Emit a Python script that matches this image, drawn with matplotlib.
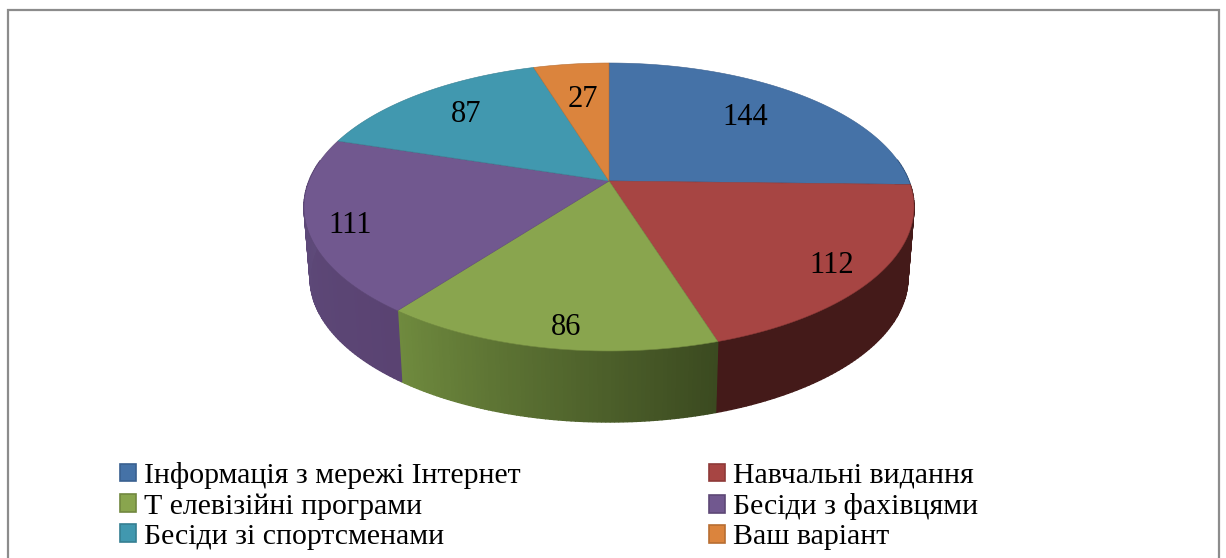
import numpy as np
import matplotlib
matplotlib.use("Agg")
import matplotlib.pyplot as plt
from matplotlib.colors import to_rgb
from matplotlib.patches import Patch, Polygon, Rectangle

# Data
labels = ["Інформація з мережі Інтернет", "Навчальні видання", "Т елевізійні програми",
          "Бесіди з фахівцями", "Бесіди зі спортсменами", "Ваш варіант"]
values = [144, 112, 86, 111, 87, 27]

# Styles
top_colors = ["#4572A7", "#A74543", "#89A54E", "#71588F", "#4198AF", "#DB843D"]
edge_colors = ["#3A6090", "#8E3A38", "#71883F", "#5D4876", "#357F92", "#B86E32"]
side_start = ["#2C4A6E", "#441A19", "#3B4A20", "#5A4372", "#2C6676", "#8F5527"]
side_end = ["#2C4A6E", "#441A19", "#6F8A3E", "#5F4C7C", "#2C6676", "#8F5527"]
label_r = [0.719, 0.856, 0.876, 0.866, 0.755, 0.687]
label_frac = [0.477, 0.519, 0.465, 0.482, 0.517, 0.526]

# Pie geometry in pixels (perspective view of a disc)
CX, CY = 609, 181
RADIUS, FLAT, PERSP = 300, 139.3, 0.1806
DEPTH, SHRINK = 71, 0.98
FONT = "Liberation Serif"


def project(theta, r=1.0):
    """theta in degrees, clockwise from 12 o'clock."""
    t = np.radians(theta)
    u, v = r * np.sin(t), r * np.cos(t)
    w = 1 + PERSP * v
    return CX + RADIUS * u / w, CY - FLAT * v / w


def lower(x, y):
    return CX + SHRINK * (np.asarray(x) - CX), np.asarray(y) + DEPTH


fig = plt.figure(figsize=(12.26, 5.58), dpi=100)
ax = fig.add_axes([0, 0, 1, 1])
ax.set_xlim(0, 1226)
ax.set_ylim(558, 0)
ax.axis("off")

ax.add_patch(Rectangle((8, 10), 1211, 560, facecolor="white", edgecolor="#8C8C8C", linewidth=1.6))

edges = np.cumsum([0] + values) / sum(values) * 360

# sides first, then the top faces over them (back of the rim stays hidden)
for i in range(len(values)):
    thetas = np.linspace(edges[i], edges[i + 1], 80)
    start, end = np.array(to_rgb(side_start[i])), np.array(to_rgb(side_end[i]))
    for j in range(len(thetas) - 1):
        if thetas[j + 1] < 82 or thetas[j] > 278:
            continue
        x, y = project(thetas[j:j + 2])
        bx, by = lower(x, y)
        quad = np.column_stack([np.r_[x, bx[::-1]], np.r_[y, by[::-1]]])
        color = start + (end - start) * j / (len(thetas) - 2)
        ax.add_patch(Polygon(quad, facecolor=color, edgecolor=color, linewidth=1.0))

for i in range(len(values)):
    thetas = np.linspace(edges[i], edges[i + 1], 120)
    x, y = project(thetas)
    pts = np.column_stack([np.r_[CX, x], np.r_[CY, y]])
    ax.add_patch(Polygon(pts, facecolor=top_colors[i], edgecolor=edge_colors[i], linewidth=0.4))

for i, val in enumerate(values):
    theta = edges[i] + label_frac[i] * (edges[i + 1] - edges[i])
    lx, ly = project(theta, label_r[i])
    ax.text(lx, ly + 3, str(val), ha="center", va="center", fontsize=22, family=FONT, color="black")

# legend reads across the rows, matplotlib fills columns
order = [0, 2, 4, 1, 3, 5]
handles = [Patch(facecolor=top_colors[i], edgecolor=edge_colors[i], linewidth=1.2, label=labels[i]) for i in order]
ax.legend(handles=handles, ncol=2, loc="upper left", bbox_to_anchor=(120, 462),
          bbox_transform=ax.transData, frameon=False, borderpad=0, borderaxespad=0,
          prop={"family": FONT, "size": 21.5}, handlelength=0.54, handleheight=0.54,
          handletextpad=0.27, columnspacing=6.29, labelspacing=0.14)

fig.savefig("out.png", dpi=100)
